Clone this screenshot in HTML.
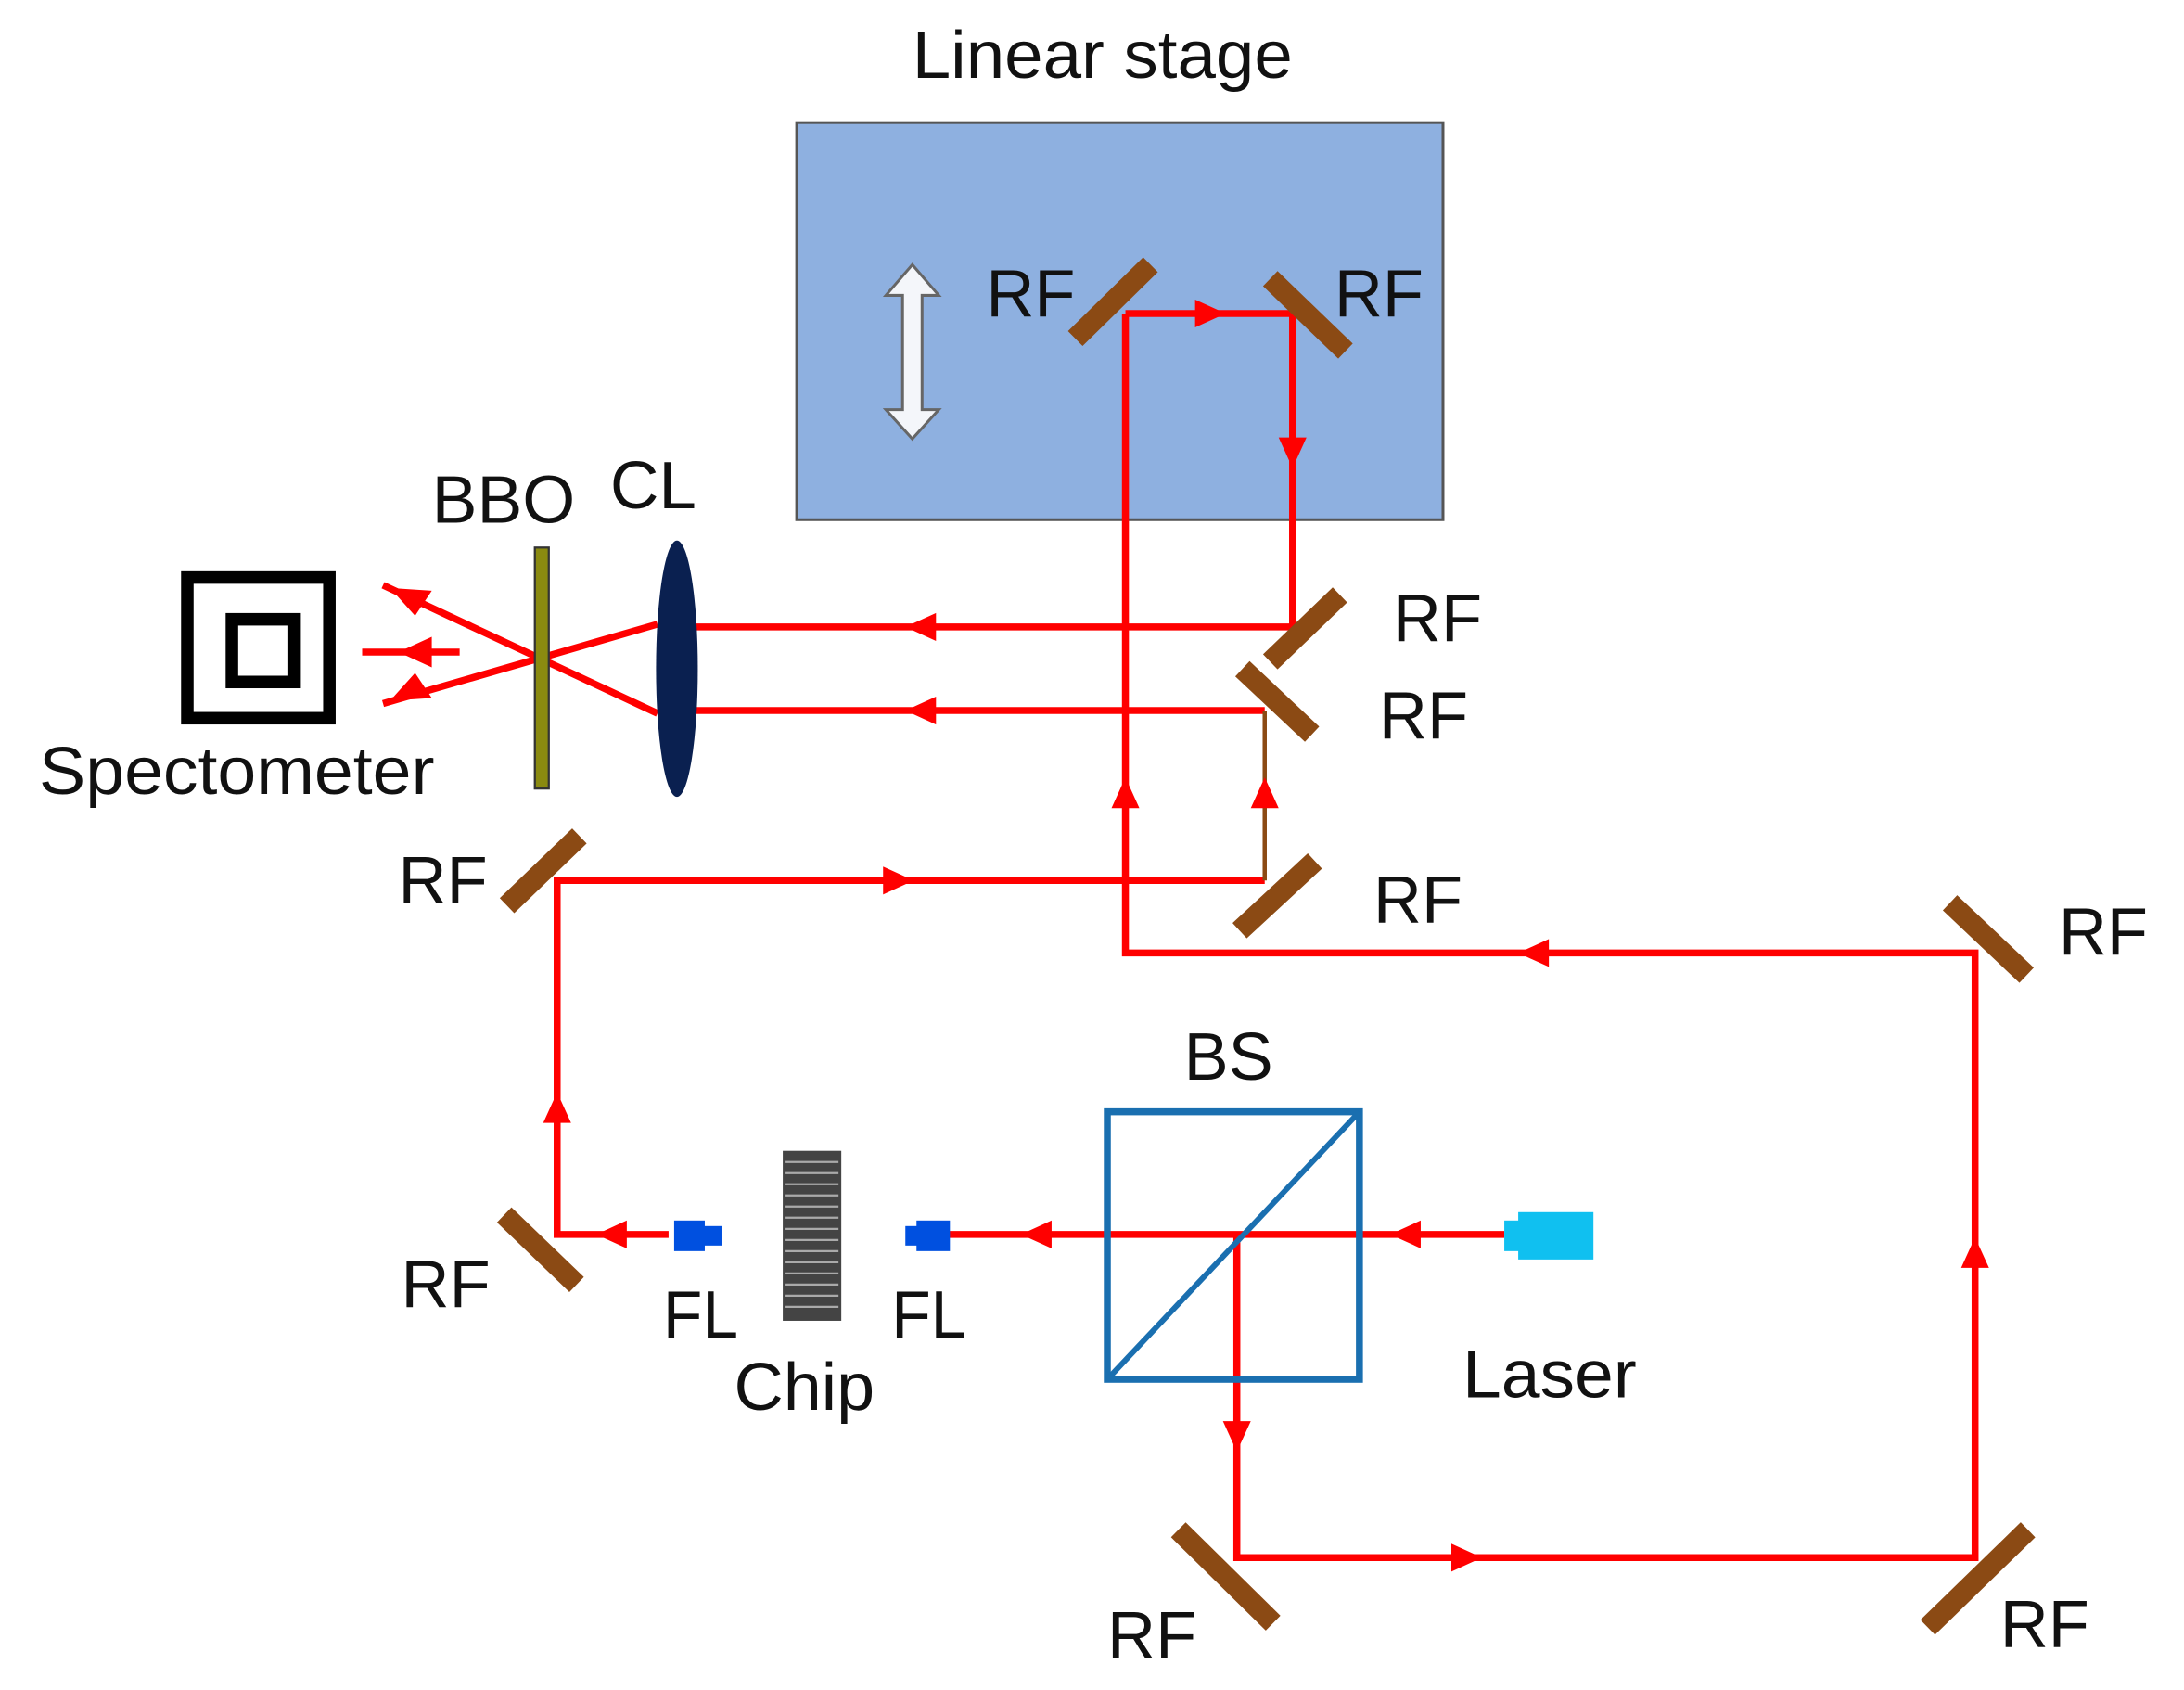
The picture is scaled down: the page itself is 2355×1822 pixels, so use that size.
<!DOCTYPE html>
<html><head><style>html,body{margin:0;padding:0;background:#fff}svg{display:block}text{font-family:"Liberation Sans",sans-serif;fill:#111}</style></head>
<body>
<svg width="2355" height="1822" viewBox="0 0 1568 1213" preserveAspectRatio="none" xmlns="http://www.w3.org/2000/svg">
<text x="655" y="56" font-size="48" textLength="273" lengthAdjust="spacingAndGlyphs">Linear stage</text>
<rect x="572" y="88" width="464" height="285" fill="#8eb0e0" stroke="#555" stroke-width="2"/>
<path d="M655,190 L674,212 L662,212 L662,294 L674,294 L655,315 L636,294 L648,294 L648,212 L636,212 Z" fill="#f4f6fa" stroke="#666" stroke-width="2"/>
<g stroke="#f00" stroke-width="5" fill="none">
<path d="M808,225H928V450H500"/>
<path d="M908,510H500"/>
<path d="M808,225V684H1418V1118H888V886"/>
<path d="M1080,886H680"/>
<path d="M480,886H400V632H908"/>
<path d="M472,448L275,505M472,512L275,420M260,468H330"/>
</g>
<path d="M908,632V510" stroke="#8b4a14" stroke-width="3"/>
<g fill="#f00">
<path d="M880,225l-22,-10v20z"/>
<path d="M928,336l-10,-22h20z"/>
<path d="M650,450l22,-10v20z"/><path d="M650,510l22,-10v20z"/>
<path d="M808,558l-10,22h20z"/><path d="M908,558l-10,22h20z"/>
<path d="M1090,684l22,-10v20z"/>
<path d="M1418,888l-10,22h20z"/>
<path d="M1064,1118l-22,-10v20z"/>
<path d="M888,1042l-10,-22h20z"/>
<path d="M998,886l22,-10v20z"/><path d="M733,886l22,-10v20z"/>
<path d="M428,886l22,-10v20z"/>
<path d="M400,784l-10,22h20z"/>
<path d="M656,632l-22,-10v20z"/>
<path d="M280,422l30,2l-12,18z"/><path d="M286,468l24,-11v22z"/><path d="M280,503l30,-2l-12,-18z"/>
</g>
<g stroke="#8b4a14" stroke-width="15">
<path d="M772,243L826,190"/><path d="M912,200L966,252"/>
<path d="M912,475L962,427"/><path d="M892,480L942,527"/>
<path d="M890,668L944,618"/><path d="M364,650L416,600"/>
<path d="M1400,648L1455,700"/><path d="M362,872L414,922"/>
<path d="M846,1098L914,1165"/><path d="M1384,1168L1456,1098"/>
</g>
<rect x="384" y="393" width="10" height="173" fill="#8a8a10" stroke="#333" stroke-width="1.5"/>
<ellipse cx="486" cy="480" rx="15" ry="92" fill="#0a2050"/>
<rect x="134.5" y="414.5" width="102" height="101" fill="none" stroke="#000" stroke-width="9"/>
<rect x="166.5" y="444.5" width="45" height="45" fill="none" stroke="#000" stroke-width="9"/>
<rect x="795" y="798" width="181" height="192" fill="none" stroke="#1a6fb0" stroke-width="5"/>
<path d="M795,990L976,798" stroke="#1a6fb0" stroke-width="4"/>
<rect x="1090" y="870" width="54" height="34" fill="#10c0f0"/><rect x="1080" y="876" width="12" height="22" fill="#10c0f0"/>
<rect x="658" y="876" width="24" height="22" fill="#0050e0"/><rect x="650" y="880" width="10" height="14" fill="#0050e0"/>
<rect x="484" y="876" width="22" height="22" fill="#0050e0"/><rect x="504" y="880" width="14" height="14" fill="#0050e0"/>
<rect x="562" y="826" width="42" height="122" fill="#444"/>
<g stroke="#aaa" stroke-width="1.5"><path d="M564,834H602M564,842H602M564,850H602M564,858H602M564,866H602M564,874H602M564,882H602M564,890H602M564,898H602M564,906H602M564,914H602M564,922H602M564,930H602M564,938H602"/></g>
<g font-size="48">
<text x="708" y="227" textLength="64" lengthAdjust="spacingAndGlyphs">RF</text><text x="958" y="227" textLength="64" lengthAdjust="spacingAndGlyphs">RF</text>
<text x="1000" y="460" textLength="64" lengthAdjust="spacingAndGlyphs">RF</text><text x="990" y="530" textLength="64" lengthAdjust="spacingAndGlyphs">RF</text>
<text x="986" y="662" textLength="64" lengthAdjust="spacingAndGlyphs">RF</text><text x="286" y="648" textLength="64" lengthAdjust="spacingAndGlyphs">RF</text>
<text x="1478" y="685" textLength="64" lengthAdjust="spacingAndGlyphs">RF</text><text x="288" y="938" textLength="64" lengthAdjust="spacingAndGlyphs">RF</text>
<text x="795" y="1190" textLength="64" lengthAdjust="spacingAndGlyphs">RF</text><text x="1436" y="1182" textLength="64" lengthAdjust="spacingAndGlyphs">RF</text>
<text x="310" y="375" textLength="103" lengthAdjust="spacingAndGlyphs">BBO</text><text x="438" y="365" textLength="62" lengthAdjust="spacingAndGlyphs">CL</text>
<text x="28" y="570" textLength="284" lengthAdjust="spacingAndGlyphs">Spectometer</text>
<text x="850" y="775" textLength="64" lengthAdjust="spacingAndGlyphs">BS</text><text x="1050" y="1003" textLength="125" lengthAdjust="spacingAndGlyphs">Laser</text>
<text x="476" y="960" textLength="54" lengthAdjust="spacingAndGlyphs">FL</text><text x="640" y="960" textLength="54" lengthAdjust="spacingAndGlyphs">FL</text>
<text x="527" y="1012" textLength="101" lengthAdjust="spacingAndGlyphs">Chip</text>
</g>
</svg>
</body></html>
